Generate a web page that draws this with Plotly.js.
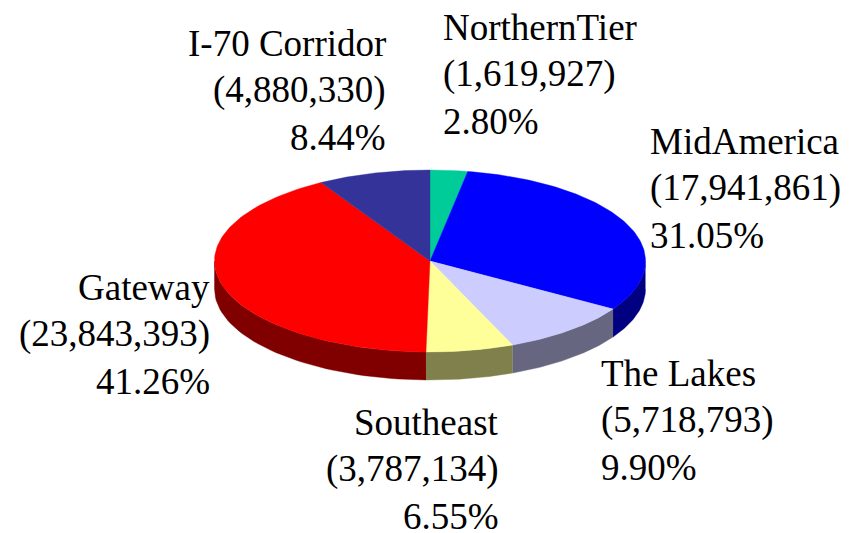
<!DOCTYPE html>
<html>
<head>
<meta charset="utf-8">
<script src="https://cdn.plot.ly/plotly-3.0.1.min.js"></script>
<style>html,body{margin:0;padding:0;background:#fff}#chart{width:850px;height:533px}</style>
</head>
<body>
<div id="chart"></div>
<script>
const regions = ["NorthernTier","MidAmerica","The Lakes","Southeast","Gateway","I-70 Corridor"];
const amounts = [1619927,17941861,5718793,3787134,23843393,4880330];
const shares = ["2.80%","31.05%","9.90%","6.55%","41.26%","8.44%"];
const topColors = ["#00cc99","#0000ff","#ccccff","#ffff99","#ff0000","#333399"];
const sideColors = ["#006650","#000080","#666680","#80804d","#800000","#1a1a4d"];

// Label placement: first-line centre y, anchor x, alignment
const labelX = [441.5,648.5,599.5,500,211,387];
const labelY = [27,141,373,422,287,43];
const labelAnchor = ["left","left","left","right","right","right"];
const lineStep = 47.3;

const cx = 430, cy = 261, rx = 215.5, ry = 91, depth = 28;
const total = amounts.reduce((a,b)=>a+b,0);
const px = a => cx + rx*Math.sin(a);
const py = a => cy - ry*Math.cos(a);

const traces = [];
let start = 0;
const sweeps = amounts.map(v => {
  const s = [start, start + v/total*2*Math.PI];
  start = s[1];
  return s;
});

// Side walls: front half of the ellipse only
sweeps.forEach((s,i) => {
  const a0 = Math.max(s[0], Math.PI/2), a1 = Math.min(s[1], 3*Math.PI/2);
  if (a1 <= a0) return;
  const xs=[], ys=[];
  const n = 48;
  for (let k=0;k<=n;k++){ const a=a0+(a1-a0)*k/n; xs.push(px(a)); ys.push(py(a)); }
  for (let k=n;k>=0;k--){ const a=a0+(a1-a0)*k/n; xs.push(px(a)); ys.push(py(a)+depth); }
  traces.push({type:"scatter",mode:"lines",x:xs,y:ys,fill:"toself",fillcolor:sideColors[i],
    line:{width:0.4,color:sideColors[i]},hoverinfo:"skip",showlegend:false});
});

// Top faces
sweeps.forEach((s,i) => {
  const xs=[cx], ys=[cy];
  const n = 96;
  for (let k=0;k<=n;k++){ const a=s[0]+(s[1]-s[0])*k/n; xs.push(px(a)); ys.push(py(a)); }
  xs.push(cx); ys.push(cy);
  traces.push({type:"scatter",mode:"lines",x:xs,y:ys,fill:"toself",fillcolor:topColors[i],
    line:{width:0.4,color:topColors[i]},name:regions[i],
    text:regions[i]+" ("+amounts[i].toLocaleString("en-US")+") "+shares[i],hoverinfo:"text",showlegend:false});
});

const annotations = [];
regions.forEach((r,i) => {
  [r, "("+amounts[i].toLocaleString("en-US")+")", shares[i]].forEach((t,j) => {
    annotations.push({x:labelX[i],y:labelY[i]+j*lineStep,xref:"x",yref:"y",text:t,showarrow:false,
      xanchor:labelAnchor[i],yanchor:"middle",borderpad:0,
      font:{family:"'Liberation Serif','Times New Roman',serif",size:37,color:"#000"}});
  });
});

Plotly.newPlot("chart",traces,{
  width:850,height:533,margin:{l:0,r:0,t:0,b:0},paper_bgcolor:"#fff",plot_bgcolor:"#fff",
  showlegend:false,
  xaxis:{range:[0,850],visible:false,fixedrange:true},
  yaxis:{range:[533,0],visible:false,fixedrange:true},
  annotations:annotations
},{displayModeBar:false,staticPlot:true});
</script>
</body>
</html>
